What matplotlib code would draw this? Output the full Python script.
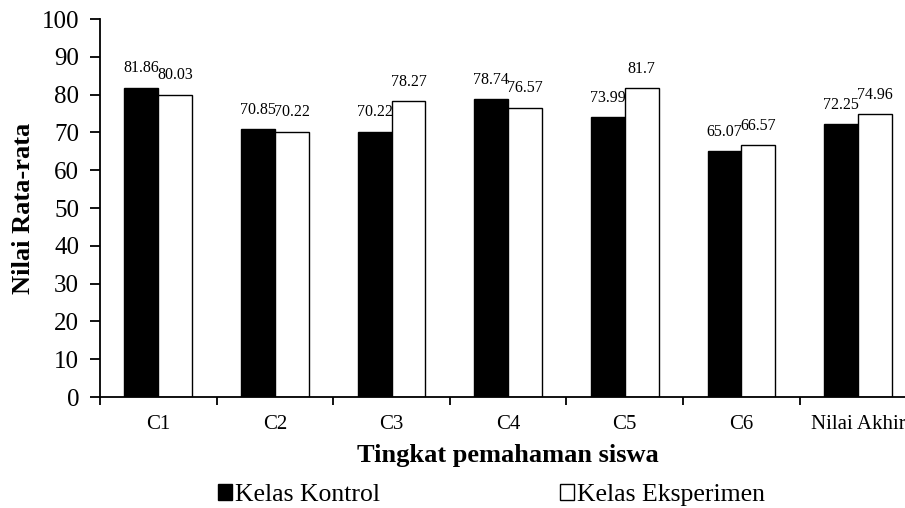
import matplotlib
matplotlib.use("Agg")
import matplotlib.pyplot as plt
import numpy as np

plt.rcParams['font.family'] = ['Liberation Serif', 'DejaVu Serif']

categories = ["C1", "C2", "C3", "C4", "C5", "C6", "Nilai Akhir"]
kontrol = [81.86, 70.85, 70.22, 78.74, 73.99, 65.07, 72.25]
eksperimen = [80.03, 70.22, 78.27, 76.57, 81.7, 66.57, 74.96]

fig = plt.figure(figsize=(9.05, 5.08), dpi=100)
ax = fig.add_axes([0.1105, 0.2185, 0.902, 0.744])

x = np.arange(len(categories))
w = 0.29
b1 = ax.bar(x - w / 2, kontrol, w, color="black", edgecolor="black", linewidth=1.0, label="Kelas Kontrol")
b2 = ax.bar(x + w / 2, eksperimen, w, color="white", edgecolor="black", linewidth=1.0, label="Kelas Eksperimen")
ax.bar_label(b1, fmt="%g", padding=8, fontsize=11.5)
ax.bar_label(b2, fmt="%g", padding=8, fontsize=11.5)

ax.set_xlim(-0.5, len(categories) - 0.5)
ax.set_ylim(0, 100)
ax.set_yticks(np.arange(0, 101, 10))
ax.tick_params(axis="y", labelsize=18, length=7, width=1.3, direction="out", pad=8)

# category labels at centres, ticks at boundaries
ax.set_xticks(x)
ax.set_xticklabels(categories, fontsize=15)
ax.set_xticks(np.arange(-0.5, len(categories), 1), minor=True)
ax.tick_params(axis="x", which="major", length=0, pad=13)
ax.tick_params(axis="x", which="minor", length=6, width=1.3, direction="out")

for s in ["top", "right"]:
    ax.spines[s].set_visible(False)
for s in ["left", "bottom"]:
    ax.spines[s].set_linewidth(1.3)

ax.set_xlabel("Tingkat pemahaman siswa", fontsize=19, fontweight="bold", labelpad=7)
ax.set_ylabel("Nilai Rata-rata", fontsize=19, fontweight="bold", labelpad=5)

fig.legend(loc="center", bbox_to_anchor=(0.543, 0.025), ncol=2, frameon=False,
           fontsize=18.5, handlelength=0.55, handleheight=0.55, handletextpad=0.12,
           columnspacing=7.0)

fig.savefig("out.png", dpi=100)
